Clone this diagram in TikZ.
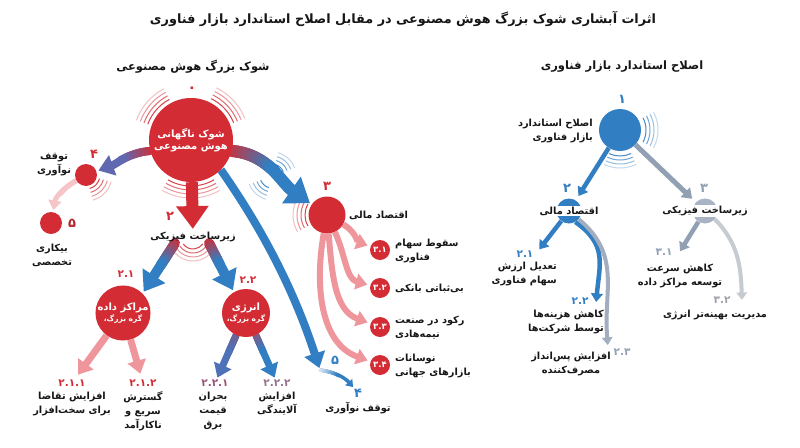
\documentclass[tikz,border=0pt]{standalone}
\usepackage{fontspec}
\setmainfont{DejaVu Sans}[Script=Arabic]
\TeXXeTstate=1
\usetikzlibrary{arrows.meta,backgrounds}

\definecolor{shockred}{RGB}{212,44,52}
\definecolor{pinkred}{RGB}{239,150,156}
\definecolor{fixblue}{RGB}{50,126,194}
\definecolor{purpleblue}{RGB}{96,104,176}
\definecolor{greyblue}{RGB}{146,160,180}
\definecolor{lightgrey}{RGB}{198,203,210}
\definecolor{mauve}{RGB}{150,84,118}
\definecolor{ink}{RGB}{22,22,22}

\newcommand\rl[1]{\beginR#1\endR}
% thick connector, colour runs from #6 to #7
\newcommand\gradarrow[7][0.6]{%
  \draw[arr, line width=#5, #7] #2 to[#4] #3;
  \foreach \k in {0,...,10}
    \path #2 to[#4] coordinate[pos=\k*#1/10] (g\k) #3;
  \foreach \k [remember=\k as \j (initially 0)] in {1,...,10} {
    \pgfmathtruncatemacro\mix{100-\k*10}
    \draw[line width=#5, line cap=round, #6!\mix!#7] (g\j) -- (g\k);
  }
}
% rings of short arcs round a point
\newcommand\ripple[6]{%
  \foreach \w in {0,...,3} {
    \pgfmathsetmacro\rr{#4+\w*#5}
    \pgfmathtruncatemacro\fade{90-\w*20}
    \draw[#6!\fade!white, line width=1pt] #1 ++(#2:\rr) arc[start angle=#2, end angle=#3, radius=\rr];
  }
}

\begin{document}
\begin{tikzpicture}[x=1pt, y=1pt,
    dot/.style={circle, fill=shockred, inner sep=0pt, text=white, align=center, font=\bfseries\fontsize{10}{12.5}\selectfont},
    txt/.style={text=ink, align=center, inner sep=1pt, font=\bfseries\fontsize{9.8}{14}\selectfont},
    head/.style={text=ink, font=\bfseries\fontsize{11.5}{14}\selectfont},
    num/.style={text=shockred, inner sep=0pt, font=\bfseries\fontsize{13}{13}\selectfont},
    subnum/.style={text=shockred, inner sep=0pt, font=\bfseries\fontsize{10.5}{11}\selectfont},
    arr/.style={-{Triangle[width=0pt 2.6, length=0pt 1.9]}, shorten >=2pt}]
  \useasboundingbox (0,0) rectangle (800,-447);

  \node[head, font=\bfseries\fontsize{12.8}{16}\selectfont] (title) at (403,-19) {\rl{اثرات آبشاری شوک بزرگ هوش مصنوعی در مقابل اصلاح استاندارد بازار فناوری}};
  \node[head] (lhead) at (193,-67) {\rl{شوک بزرگ هوش مصنوعی}};
  \node[head] (rhead) at (622,-67) {\rl{اصلاح استاندارد بازار فناوری}};

  % left: the shock
  \node[dot, minimum size=84pt] (shock) at (191,-140) {\rl{شوک ناگهانی}\\\rl{هوش مصنوعی}};
  \node[num, font=\bfseries\fontsize{15}{15}\selectfont] (l0) at (192,-90) {۰};

  \node[dot, minimum size=22pt] (n4) at (86,-175) {};
  \node[num] (l4) at (94,-154) {۴};
  \node[txt] (t4) at (54,-165) {\rl{توقف}\\\rl{نوآوری}};
  \node[dot, minimum size=22pt] (n5) at (51,-223) {};
  \node[num, text=shockred!85!black] (l5) at (72,-223) {۵};
  \node[txt] (t5) at (52,-255) {\rl{بیکاری}\\\rl{تخصصی}};

  \node[num] (l2) at (170,-216) {۲};
  \node[txt] (n2) at (193,-237) {\rl{زیرساخت فیزیکی}};
  \node[dot, minimum size=54pt] (n21) at (123,-313) {\rl{مراکز داده}\\[-1pt]{\fontsize{7.5}{9}\selectfont\rl{گره بزرگ،}}};
  \node[subnum] (l21) at (126,-274) {۲.۱};
  \node[dot, minimum size=48pt] (n22) at (246,-313) {\rl{انرژی}\\[-1pt]{\fontsize{7.5}{9}\selectfont\rl{گره بزرگ،}}};
  \node[subnum] (l22) at (248,-280) {۲.۲};

  \node[subnum] (l211) at (72,-383) {۲.۱.۱};
  \node[txt] (t211) at (72,-404) {\rl{افزایش تقاضا}\\\rl{برای سخت‌افزار}};
  \node[subnum] (l212) at (143,-383) {۲.۱.۲};
  \node[txt] (t212) at (143,-411) {\rl{گسترش}\\\rl{سریع و}\\\rl{ناکارآمد}};
  \node[subnum, text=mauve] (l221) at (215,-383) {۲.۲.۱};
  \node[txt] (t221) at (213,-411) {\rl{بحران}\\\rl{قیمت}\\\rl{برق}};
  \node[subnum, text=mauve!60!greyblue] (l222) at (277,-383) {۲.۲.۲};
  \node[txt] (t222) at (277,-404) {\rl{افزایش}\\\rl{آلایندگی}};

  \node[dot, minimum size=37pt] (n3) at (327,-215) {};
  \node[num] (l3) at (327,-186) {۳};
  \node[txt, anchor=west] (t3) at (348,-215) {\rl{اقتصاد مالی}};
  \node[dot, minimum size=20pt, font=\bfseries\fontsize{8.5}{9}\selectfont] (n31) at (380,-250) {۳.۱};
  \node[txt, anchor=west, align=left] (t31) at (394,-251) {\rl{سقوط سهام}\\\rl{فناوری}};
  \node[dot, minimum size=20pt, font=\bfseries\fontsize{8.5}{9}\selectfont] (n32) at (380,-288) {۳.۲};
  \node[txt, anchor=west] (t32) at (394,-289) {\rl{بی‌ثباتی بانکی}};
  \node[dot, minimum size=20pt, font=\bfseries\fontsize{8.5}{9}\selectfont] (n33) at (380,-327) {۳.۳};
  \node[txt, anchor=west, align=left] (t33) at (394,-328) {\rl{رکود در صنعت}\\\rl{نیمه‌هادی}};
  \node[dot, minimum size=20pt, font=\bfseries\fontsize{8.5}{9}\selectfont] (n34) at (380,-365) {۳.۴};
  \node[txt, anchor=west, align=left] (t34) at (394,-366) {\rl{نوسانات}\\\rl{بازارهای جهانی}};

  \coordinate (c5) at (320,-370);
  \coordinate (c3w) at (272,-176);
  \node[num, text=fixblue] (l5b) at (335,-360) {۵};
  \node[num, text=fixblue] (l4b) at (358,-393) {۴};
  \node[txt] (t4b) at (358,-408) {\rl{توقف نوآوری}};

  % right: the standard correction
  \node[circle, fill=fixblue, minimum size=42pt, inner sep=0pt] (n1) at (620,-130) {};
  \node[num, text=fixblue] (l1) at (622,-99) {۱};
  \node[txt, anchor=east, align=right] (t1) at (594,-131) {\rl{اصلاح استاندارد}\\\rl{بازار فناوری}};

  \node[circle, fill=fixblue, minimum size=25pt, inner sep=0pt] (n2r) at (569,-211) {};
  \node[txt, fill=white] (t2r) at (n2r) {\rl{اقتصاد مالی}};
  \node[num, text=fixblue] (l2r) at (567,-188) {۲};
  \node[circle, fill=greyblue!80!white, minimum size=25pt, inner sep=0pt] (n3r) at (705,-211) {};
  \node[txt, fill=white] (t3r) at (n3r) {\rl{زیرساخت فیزیکی}};
  \node[num, text=greyblue] (l3r) at (704,-188) {۳};

  \coordinate (c21r) at (538,-251);
  \node[subnum, text=fixblue] (l21r) at (525,-254) {۲.۱};
  \node[txt, anchor=north east, align=right] (t21r) at (558,-261) {\rl{تعدیل ارزش}\\\rl{سهام فناوری}};
  \coordinate (c22r) at (596,-304);
  \node[subnum, text=fixblue] (l22r) at (580,-301) {۲.۲};
  \node[txt, align=right] (t22r) at (566,-322) {\rl{کاهش هزینه‌ها}\\\rl{توسط شرکت‌ها}};
  \coordinate (c23r) at (608,-347);
  \node[subnum, text=greyblue] (l23r) at (622,-352) {۲.۳};
  \node[txt] (t23r) at (571,-364) {\rl{افزایش پس‌انداز}\\\rl{مصرف‌کننده}};
  \coordinate (c31r) at (679,-253);
  \node[subnum, text=greyblue] (l31r) at (664,-252) {۳.۱};
  \node[txt] (t31r) at (680,-276) {\rl{کاهش سرعت}\\\rl{توسعه مراکز داده}};
  \coordinate (c32r) at (742,-302);
  \node[subnum, text=lightgrey!80!black] (l32r) at (722,-300) {۳.۲};
  \node[txt] (t32r) at (715,-315) {\rl{مدیریت بهینه‌تر انرژی}};

  \begin{scope}[on background layer]
    \fill[white] (0,0) rectangle (800,-447);
    % ripples
    \ripple{(shock.center)}{118}{160}{46}{4}{shockred}
    \ripple{(shock.center)}{22}{64}{46}{4}{shockred}
    \ripple{(shock.center)}{240}{300}{46}{4}{shockred}
    \ripple{(n4.center)}{285}{345}{14}{4}{shockred}
    \ripple{(n2.center)}{215}{325}{12}{4}{shockred}
    \ripple{(n3.center)}{150}{210}{22}{4}{shockred}
    \ripple{(c3w)}{20}{75}{12}{4}{fixblue}
    \ripple{(c3w)}{200}{255}{12}{4}{fixblue}
    \ripple{(n1.center)}{-28}{28}{26}{4}{fixblue}
    \ripple{(n1.center)}{245}{295}{26}{4}{fixblue}

    % left connectors
    \gradarrow[0.55]{(shock.195)}{(n4)}{out=185,in=20}{8pt}{shockred}{purpleblue}
    \gradarrow[0.5]{(n4)}{(n5)}{out=210,in=80}{5pt}{pinkred}{pinkred!55!white}
    \draw[arr, line width=12pt, shockred] (shock) -- (n2);
    \gradarrow[0.45]{([xshift=-18pt]n2.south)}{(n21.north east)}{}{10pt}{shockred}{fixblue}
    \gradarrow[0.45]{([xshift=16pt]n2.south)}{(n22.120)}{}{10pt}{shockred}{fixblue}
    \draw[arr, line width=7pt, pinkred, shorten >=6pt] (n21) -- (l211);
    \draw[arr, line width=7pt, pinkred, shorten >=6pt] (n21) -- (l212);
    \gradarrow[0.4]{(n22)}{(l221)}{}{7pt}{mauve!70!shockred}{purpleblue!60!fixblue}
    \gradarrow[0.4]{(n22)}{(l222)}{}{7pt}{mauve}{fixblue}
    \gradarrow[0.5]{(shock.-15)}{(n3)}{out=-5,in=145}{12pt}{shockred}{fixblue}
    \draw[arr, line width=8pt, fixblue] (shock.-45) to[out=-55,in=108,looseness=0.9] (c5);
    \gradarrow[0.5]{(c5)}{(l4b)}{bend left=20}{3.5pt}{fixblue!10!white}{fixblue}
    \draw[arr, line width=6pt, pinkred, shorten >=3pt] (n3) to[out=-30,in=160] (n31);
    \draw[arr, line width=6pt, pinkred, shorten >=3pt] (n3) to[out=-65,in=165] (n32);
    \draw[arr, line width=6pt, pinkred, shorten >=3pt] (n3) to[out=-85,in=160] (n33);
    \draw[arr, line width=6pt, pinkred, shorten >=3pt] (n3) to[out=-100,in=160] (n34);

    % right connectors
    \draw[arr, line width=4.5pt, fixblue, shorten >=5pt] (n1) -- (n2r);
    \draw[arr, line width=5pt, greyblue, shorten >=5pt] (n1) -- (n3r);
    \draw[arr, line width=4.5pt, fixblue] (n2r) -- (c21r);
    \draw[arr, line width=4.5pt, fixblue] (n2r.-60) to[out=-35,in=85,looseness=1.2] (c22r);
    \draw[arr, line width=4pt, greyblue!85!white] (n2r.-40) to[out=-40,in=95,looseness=1.1] (c23r);
    \draw[arr, line width=4.5pt, greyblue] (n3r) -- (c31r);
    \draw[arr, line width=4pt, lightgrey] (n3r.-40) to[out=-45,in=92] (c32r);
  \end{scope}
\end{tikzpicture}
\end{document}
